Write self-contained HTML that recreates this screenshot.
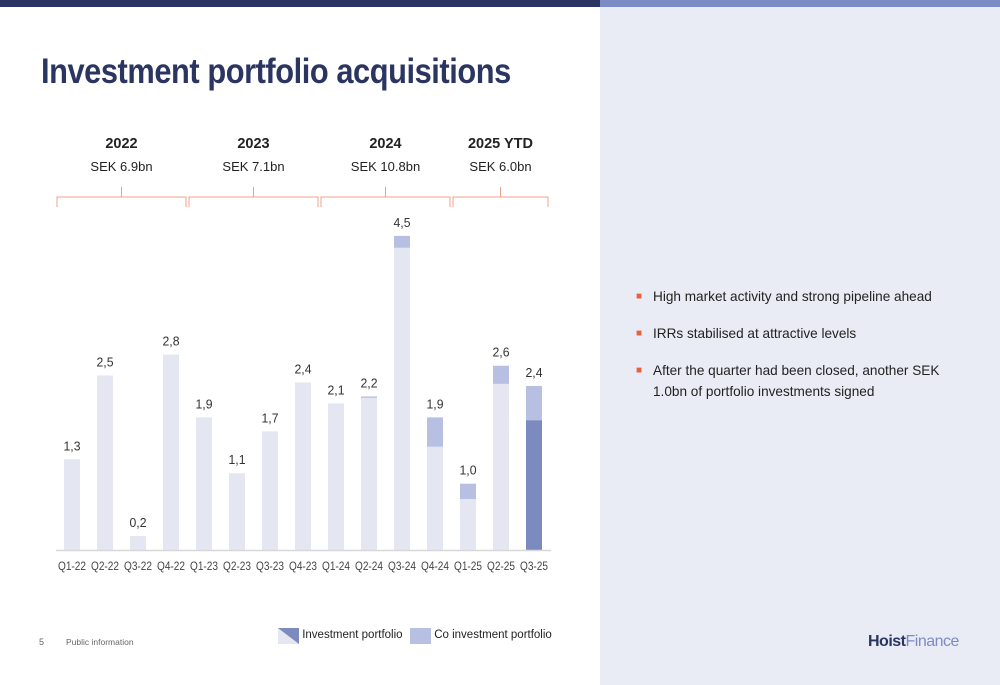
<!DOCTYPE html>
<html><head><meta charset="utf-8"><style>
body{margin:0;width:1000px;height:685px;overflow:hidden;background:#fff;font-family:"Liberation Sans",sans-serif;position:relative}
.abs{position:absolute}
</style></head><body>
<div class="abs" style="left:0;top:0;width:600px;height:7px;background:#2b3562"></div>
<div class="abs" style="left:600px;top:0;width:400px;height:7px;background:#7b8bc4"></div>
<div class="abs" style="left:600px;top:7px;width:400px;height:678px;background:#e9ecf4"></div>
<div class="abs" style="left:41px;top:52px;font-size:35px;font-weight:bold;color:#2b3562;letter-spacing:-0.5px;transform:scaleX(0.88);transform-origin:0 0;white-space:nowrap">Investment portfolio acquisitions</div>
<svg class="abs" style="left:0;top:0" width="600" height="685" id="chart"></svg>
<div class="abs" style="left:636px;top:286px;width:310px;font-size:13.6px;color:#222;line-height:21px">
<div style="position:relative;padding-left:17px;margin-bottom:16px"><span style="position:absolute;left:0;top:0;color:#e8603c;font-size:10px">■</span>High market activity and strong pipeline ahead</div>
<div style="position:relative;padding-left:17px;margin-bottom:16px"><span style="position:absolute;left:0;top:0;color:#e8603c;font-size:10px">■</span>IRRs stabilised at attractive levels</div>
<div style="position:relative;padding-left:17px"><span style="position:absolute;left:0;top:0;color:#e8603c;font-size:10px">■</span>After the quarter had been closed, another SEK 1.0bn of portfolio investments signed</div>
</div>
<div class="abs" style="left:39px;top:637px;font-size:9px;color:#666">5</div>
<div class="abs" style="left:66px;top:637px;font-size:8.5px;color:#666">Public information</div>
<div class="abs" style="left:868px;top:633px;font-size:16px;font-weight:bold;color:#2b3562;letter-spacing:-0.5px">Hoist<span style="color:#7b8bc4;font-weight:normal">Finance</span></div>
<div class="abs" style="left:278px;top:628px;font-size:11.5px;color:#222">
<span style="position:absolute;left:0;top:0;white-space:nowrap"><svg width="21" height="16" style="vertical-align:middle"><rect width="21" height="16" fill="#e4e6f2"/><polygon points="0,0 21,0 21,16" fill="#7b8bbf"/></svg> <span style="position:relative;top:-1px">Investment portfolio</span></span>
<span style="position:absolute;left:132px;top:0;white-space:nowrap"><svg width="21" height="16" style="vertical-align:middle"><rect width="21" height="16" fill="#b7bfe3"/></svg> <span style="position:relative;top:-1px">Co investment portfolio</span></span>
</div>
<script>
const categories=["Q1-22","Q2-22","Q3-22","Q4-22","Q1-23","Q2-23","Q3-23","Q4-23","Q1-24","Q2-24","Q3-24","Q4-24","Q1-25","Q2-25","Q3-25"];
const investment=[1.3,2.5,0.2,2.8,1.9,1.1,1.7,2.4,2.1,2.18,4.33,1.48,0.73,2.38,1.86];
const coInvestment=[0,0,0,0,0,0,0,0,0,0.02,0.17,0.42,0.22,0.26,0.49];
const totalLabels=["1,3","2,5","0,2","2,8","1,9","1,1","1,7","2,4","2,1","2,2","4,5","1,9","1,0","2,6","2,4"];
const years=["2022","2023","2024","2025 YTD"];
const yearTotals=["SEK 6.9bn","SEK 7.1bn","SEK 10.8bn","SEK 6.0bn"];
const yearCounts=[4,4,4,3];
const svg=document.getElementById('chart');const NS='http://www.w3.org/2000/svg';
const base=550,unit=69.8,x0=72,step=33,bw=16;
const X=i=>x0+i*step, Y=v=>base-v*unit;
function mk(t,a,txt){const e=document.createElementNS(NS,t);for(const k in a)e.setAttribute(k,a[k]);if(txt!==undefined)e.textContent=txt;svg.appendChild(e);return e;}
categories.forEach((c,i)=>{
  const inv=investment[i],co=coInvestment[i];
  const r=mk('rect',{x:X(i)-bw/2,y:Y(inv),width:bw,height:inv*unit,fill:i===categories.length-1?'#7b8bbf':'#e4e6f2'});
  
  
  if(co>0){const r2=mk('rect',{x:X(i)-bw/2,y:Y(inv+co),width:bw,height:co*unit,fill:'#b7bfe3'});
  
  }
  const l=mk('text',{x:X(i),y:Y(inv+co)-9,'text-anchor':'middle','font-size':13,fill:'#333',textLength:17,lengthAdjust:'spacingAndGlyphs'},totalLabels[i]);
  
  
  const t=mk('text',{x:X(i),y:570,'text-anchor':'middle','font-size':11.5,fill:'#444',textLength:28,lengthAdjust:'spacingAndGlyphs'},c);
  
  
});
const ax=mk('line',{x1:56,x2:551,y1:550.5,y2:550.5,stroke:'#d8d8d8','stroke-width':1.5});


let s=0;
years.forEach((y,g)=>{
  const n=yearCounts[g];const x1=X(s)-15,x2=X(s+n-1)+(g===3?14:15);const cx=(x1+x2)/2;
  const p=mk('path',{d:`M${x1},207V197H${x2}V207M${cx},197V187`,fill:'none',stroke:'#f0a08a','stroke-width':1});
  
  
  const ty=mk('text',{x:cx,y:148,'text-anchor':'middle','font-size':14.5,'font-weight':'bold',fill:'#222'},y);
  
  
  const tt=mk('text',{x:cx,y:171,'text-anchor':'middle','font-size':13,fill:'#222'},yearTotals[g]);
  
  
  s+=n;
});
</script>
</body></html>
